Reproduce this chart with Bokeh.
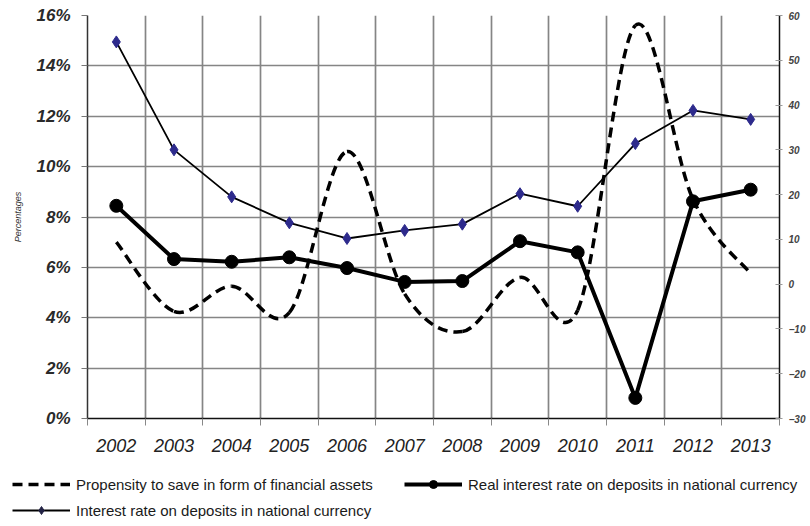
from bokeh.plotting import figure
from bokeh.layouts import column
from bokeh.models import (Range1d, LinearAxis, FixedTicker, CustomJSTickFormatter,
                          Legend, LegendItem)
from bokeh.embed import file_html
from bokeh.resources import INLINE

# ---- data ----
years = ["2002", "2003", "2004", "2005", "2006", "2007", "2008", "2009", "2010", "2011", "2012", "2013"]
propensity = [7.0, 4.25, 5.25, 4.2, 10.6, 4.95, 3.45, 5.6, 4.3, 15.6, 8.7, 5.75]      # % (left axis)
real_rate = [17.5, 5.6, 5.0, 6.0, 3.6, 0.5, 0.7, 9.6, 7.1, -25.4, 18.5, 21.1]          # right axis
nominal_rate = [54.1, 30.0, 19.5, 13.7, 10.2, 12.0, 13.4, 20.2, 17.4, 31.4, 38.8, 36.8]  # right axis
left_ticks = [0, 2, 4, 6, 8, 10, 12, 14, 16]
right_ticks = [-30, -20, -10, 0, 10, 20, 30, 40, 50, 60]
legend_labels = ["Propensity to save in form of financial assets",
                 "Real interest rate on deposits in national currency",
                 "Interest rate on deposits in national currency"]

FONT = "Liberation Sans"
n = len(years)
x = [i + 0.5 for i in range(n)]

p = figure(width=808, height=460, x_range=Range1d(0, n), y_range=Range1d(0, 16),
           output_backend="svg", toolbar_location=None,
           min_border_left=87, min_border_right=28, min_border_top=15, min_border_bottom=42)
p.frame_align = False
p.extra_y_ranges = {"right": Range1d(-30, 60)}
p.outline_line_color = None
p.background_fill_color = "white"
p.border_fill_color = "white"

# grids
p.xgrid.ticker = FixedTicker(ticks=list(range(1, n)))
p.ygrid.ticker = FixedTicker(ticks=left_ticks)
for g in (p.xgrid, p.ygrid):
    g.grid_line_color = "#858585"
    g.grid_line_width = 1.7

# x axis
xa = p.xaxis[0]
xa.ticker = FixedTicker(ticks=x, minor_ticks=list(range(n + 1)))
xa.formatter = CustomJSTickFormatter(args=dict(labels=years),
                                     code="return labels[Math.floor(tick)];")
xa.major_tick_line_color = None
xa.minor_tick_out = 7
xa.minor_tick_in = 0
xa.minor_tick_line_color = "#888888"
xa.axis_line_color = "#111111"
xa.axis_line_width = 1.5
xa.major_label_standoff = 13
xa.major_label_text_font = FONT
xa.major_label_text_font_style = "italic"
xa.major_label_text_font_size = "18px"
xa.major_label_text_color = "#222222"

# left axis
ya = p.yaxis[0]
ya.ticker = FixedTicker(ticks=left_ticks)
ya.formatter = CustomJSTickFormatter(code="return tick.toFixed(0) + '%';")
ya.major_tick_out = 6
ya.major_tick_in = 0
ya.major_tick_line_color = "#777777"
ya.minor_tick_line_color = None
ya.axis_line_color = "#333333"
ya.axis_line_width = 1.5
ya.major_label_standoff = 11
ya.major_label_text_font = FONT
ya.major_label_text_font_style = "bold italic"
ya.major_label_text_font_size = "17px"
ya.major_label_text_color = "#2a2a2a"
ya.axis_label = "Percentages"
ya.axis_label_text_font = FONT
ya.axis_label_text_font_style = "italic"
ya.axis_label_text_font_size = "9px"
ya.axis_label_text_color = "#333333"
ya.axis_label_standoff = 10

# right axis
ra = LinearAxis(y_range_name="right", ticker=FixedTicker(ticks=right_ticks))
ra.major_tick_out = 3
ra.major_tick_in = 4
ra.major_tick_line_color = "#999999"
ra.minor_tick_line_color = None
ra.axis_line_color = "#111111"
ra.axis_line_width = 1.5
ra.major_label_standoff = 6
ra.major_label_text_font = FONT
ra.major_label_text_font_style = "bold italic"
ra.major_label_text_font_size = "10px"
ra.major_label_text_color = "#444444"
p.add_layout(ra, "right")

# styles
DASH = dict(line_color="black", line_width=3.5, line_dash="10 6")
NOM_LINE = dict(line_color="black", line_width=1.8)
NOM_MARK = dict(marker="diamond", size=12, fill_color="#2d2a8c", line_color="#2d2a8c")
REAL_LINE = dict(line_color="black", line_width=4)
REAL_MARK = dict(marker="circle", size=13, fill_color="black", line_color="black")

# propensity: smoothed dashed curve (bezier segments through the data points)
bx0, by0, bx1, by1, cx0, cy0, cx1, cy1 = [], [], [], [], [], [], [], []
for i in range(n - 1):
    ip, inx = max(i - 1, 0), min(i + 2, n - 1)
    bx0.append(x[i]); by0.append(propensity[i])
    bx1.append(x[i + 1]); by1.append(propensity[i + 1])
    cx0.append(x[i] + (x[i + 1] - x[ip]) / 6.0)
    cy0.append(propensity[i] + (propensity[i + 1] - propensity[ip]) / 6.0)
    cx1.append(x[i + 1] - (x[inx] - x[i]) / 6.0)
    cy1.append(propensity[i + 1] - (propensity[inx] - propensity[i]) / 6.0)
p.bezier(x0=bx0, y0=by0, x1=bx1, y1=by1, cx0=cx0, cy0=cy0, cx1=cx1, cy1=cy1, **DASH)

# nominal interest rate
p.line(x, nominal_rate, y_range_name="right", **NOM_LINE)
p.scatter(x, nominal_rate, y_range_name="right", **NOM_MARK)

# real interest rate
p.line(x, real_rate, y_range_name="right", **REAL_LINE)
p.scatter(x, real_rate, y_range_name="right", **REAL_MARK)

# ---- legend strip below the chart (sample glyphs sit outside its visible range) ----
lg = figure(width=808, height=64, x_range=Range1d(0, 1), y_range=Range1d(0, 1),
            output_backend="svg", toolbar_location=None, min_border=0)
lg.frame_align = False
lg.axis.visible = False
lg.grid.visible = False
lg.outline_line_color = None
off = [-5, -6]
l_prop = lg.line(off, off, **DASH)
l_rl = lg.line(off, off, **REAL_LINE)
l_rc = lg.scatter(off, off, **REAL_MARK)
l_nl = lg.line(off, off, **NOM_LINE)
l_nd = lg.scatter(off, off, marker="diamond", size=11, fill_color="#222244", line_color="#222244")

legend = Legend(items=[
    LegendItem(label=legend_labels[0], renderers=[l_prop]),
    LegendItem(label=legend_labels[1], renderers=[l_rl, l_rc]),
    LegendItem(label=legend_labels[2], renderers=[l_nl, l_nd]),
], location=(12, 4), orientation="horizontal", ncols=2)
legend.glyph_width = 58
legend.glyph_height = 20
legend.label_height = 20
legend.label_width = 322
legend.label_standoff = 6
legend.spacing = 6
legend.padding = 0
legend.margin = 0
legend.border_line_color = None
legend.background_fill_alpha = 0
legend.label_text_font = FONT
legend.label_text_font_size = "15px"
legend.label_text_color = "#1a1a1a"
lg.add_layout(legend, "center")

layout = column(p, lg, spacing=0)
open("out.html", "w").write(file_html(layout, INLINE))
